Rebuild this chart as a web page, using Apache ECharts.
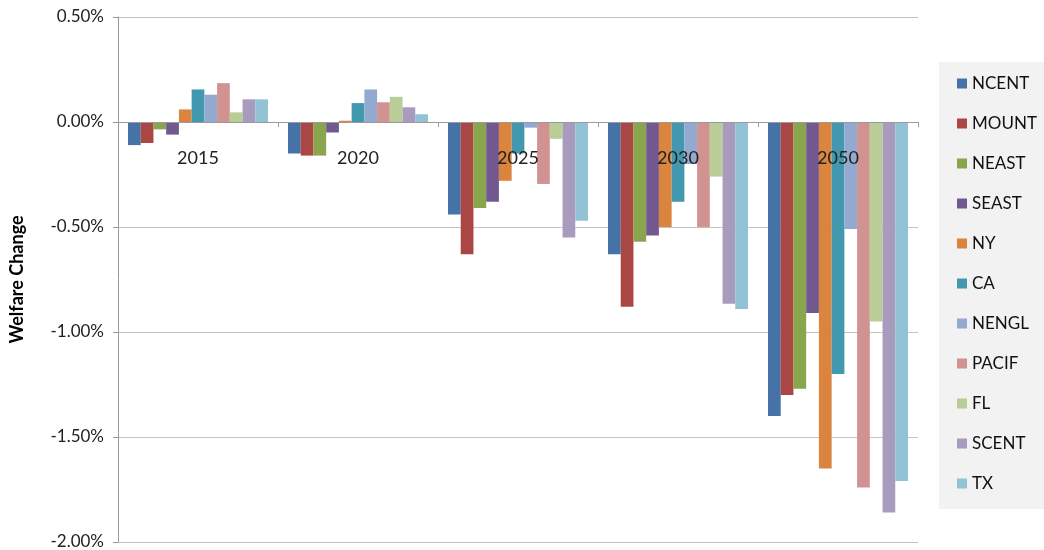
<!DOCTYPE html>
<html lang="en">
<head>
    <meta charset="UTF-8">
    <title>Welfare Change</title>
    <style>
        body{ margin:0; background:#fff; }
        .box{ width:1044px; height:550px; }
    </style>
    <script src="https://cdn.jsdelivr.net/npm/echarts@6/dist/echarts.min.js"></script>
</head>
<body>
    <div class="box" id="barchart"></div>
    <script>
        // values in percent
        var years = ['2015', '2020', '2025', '2030', '2050'];
        var regions = ['NCENT', 'MOUNT', 'NEAST', 'SEAST', 'NY', 'CA', 'NENGL', 'PACIF', 'FL', 'SCENT', 'TX'];
        var colors = ['#4572A7', '#AA4643', '#89A54E', '#71588F', '#DB843D', '#4198AF',
                      '#93A9CF', '#D19392', '#B9CD96', '#A99BBD', '#92C3D4'];

        var NCENT = [-0.11, -0.15, -0.44, -0.63, -1.40];
        var MOUNT = [-0.10, -0.16, -0.63, -0.88, -1.30];
        var NEAST = [-0.035, -0.16, -0.41, -0.57, -1.27];
        var SEAST = [-0.06, -0.05, -0.38, -0.54, -0.91];
        var NY    = [0.06, 0.006, -0.28, -0.50, -1.65];
        var CA    = [0.155, 0.09, -0.15, -0.38, -1.20];
        var NENGL = [0.13, 0.155, -0.027, -0.20, -0.51];
        var PACIF = [0.185, 0.094, -0.295, -0.50, -1.74];
        var FL    = [0.046, 0.12, -0.08, -0.26, -0.95];
        var SCENT = [0.108, 0.07, -0.55, -0.865, -1.86];
        var TX    = [0.108, 0.037, -0.47, -0.89, -1.71];

        var values = [NCENT, MOUNT, NEAST, SEAST, NY, CA, NENGL, PACIF, FL, SCENT, TX];

        var font = 'Lato, "Liberation Sans", sans-serif';

        var series = regions.map(function (name, i) {
            return {
                name: name,
                type: 'bar',
                data: values[i],
                barGap: 0,
                barCategoryGap: '12.5%',
                itemStyle: { color: colors[i] }
            };
        });

        var inst = echarts.init(document.getElementById('barchart'));
        inst.setOption({
            animation: false,
            textStyle: { fontFamily: font },
            grid: { left: 118, right: 126, top: 17, bottom: 8, containLabel: false, outerBoundsMode: 'none' },
            legend: {
                data: regions,
                orient: 'vertical',
                left: 939,
                top: 62,
                backgroundColor: '#f2f2f2',
                padding: [13, 24, 17, 18],
                itemGap: 23,
                itemWidth: 10,
                itemHeight: 10,
                icon: 'rect',
                textStyle: { fontFamily: font, fontSize: 17, color: '#111', lineHeight: 17 }
            },
            xAxis: {
                type: 'category',
                data: years,
                z: 10,
                position: 'bottom',
                // axis sits on the 0% line (plot is 525px tall for 2.5%)
                offset: -420,
                axisLine: { onZero: false, lineStyle: { color: '#9a9a9a' } },
                axisTick: { show: true, length: 5, alignWithLabel: false, lineStyle: { color: '#9a9a9a' } },
                axisLabel: { margin: 27, fontSize: 18, color: '#222', fontFamily: font }
            },
            yAxis: {
                type: 'value',
                min: -2,
                max: 0.5,
                interval: 0.5,
                name: 'Welfare Change',
                nameLocation: 'middle',
                nameGap: 92,
                nameTextStyle: { fontSize: 18, fontWeight: 'bold', color: '#000', fontFamily: font },
                axisLine: { show: true, lineStyle: { color: '#9a9a9a' } },
                axisTick: { show: true, length: 5, lineStyle: { color: '#9a9a9a' } },
                axisLabel: {
                    margin: 14,
                    fontSize: 17,
                    color: '#222',
                    fontFamily: font,
                    formatter: function (v) { return v.toFixed(2) + '%'; }
                },
                splitLine: { lineStyle: { color: '#c4c4c4' } }
            },
            series: series
        });
    </script>
</body>
</html>
